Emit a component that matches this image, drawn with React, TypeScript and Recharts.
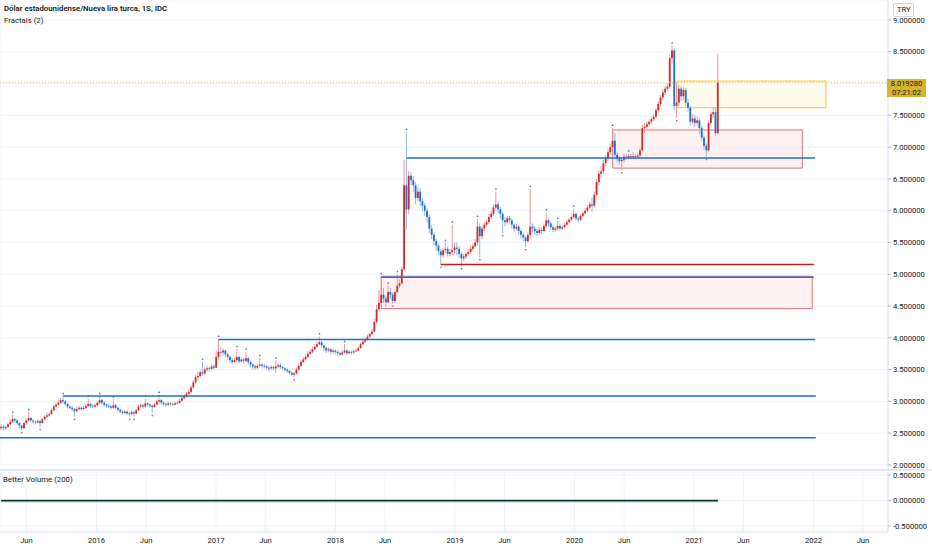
import React from "react";
import {
  ComposedChart,
  Bar,
  Scatter,
  XAxis,
  YAxis,
  CartesianGrid,
  ReferenceLine,
  ReferenceArea,
} from "recharts";

// [close, high, low] per weekly candle; open is the previous close
type Candle = [number, number, number];

const firstWeek = Date.UTC(2015, 2, 16);
const firstOpen = 2.58;

const weeks2015: Candle[] = [
  [2.60, 2.64, 2.55], [2.58, 2.63, 2.54], [2.60, 2.62, 2.55], [2.64, 2.66, 2.59], [2.68, 2.72, 2.62],
  [2.72, 2.79, 2.66], [2.70, 2.74, 2.66], [2.66, 2.72, 2.63], [2.62, 2.67, 2.58], [2.58, 2.63, 2.55],
  [2.66, 2.68, 2.57], [2.70, 2.73, 2.64], [2.74, 2.83, 2.68], [2.70, 2.76, 2.67], [2.68, 2.72, 2.65],
  [2.67, 2.70, 2.64], [2.69, 2.72, 2.65], [2.66, 2.71, 2.60], [2.72, 2.74, 2.65], [2.76, 2.78, 2.70],
  [2.78, 2.82, 2.74], [2.80, 2.83, 2.76], [2.86, 2.89, 2.79], [2.92, 2.95, 2.85], [2.95, 2.98, 2.90],
  [2.98, 3.02, 2.93], [3.02, 3.05, 2.96], [3.00, 3.08, 2.96], [2.96, 3.02, 2.93], [2.92, 2.98, 2.89],
  [2.90, 2.94, 2.87], [2.88, 2.93, 2.84], [2.85, 2.90, 2.76], [2.88, 2.91, 2.83], [2.90, 2.93, 2.86],
  [2.88, 2.92, 2.85], [2.90, 2.93, 2.86], [2.93, 2.96, 2.88], [2.96, 3.04, 2.91], [2.93, 2.98, 2.90],
  [2.92, 2.96, 2.89], [2.94, 2.97, 2.90],
];

const weeks2016: Candle[] = [
  [2.98, 3.01, 2.92], [3.02, 3.08, 2.96], [2.98, 3.04, 2.95], [2.95, 3.00, 2.92], [2.93, 2.97, 2.90],
  [2.92, 2.96, 2.89], [2.90, 2.94, 2.87], [2.94, 3.03, 2.88], [2.90, 2.96, 2.87], [2.87, 2.92, 2.84],
  [2.84, 2.89, 2.81], [2.82, 2.86, 2.79], [2.84, 2.87, 2.80], [2.81, 2.86, 2.79], [2.80, 2.84, 2.76],
  [2.83, 2.86, 2.78], [2.81, 2.85, 2.76], [2.86, 2.88, 2.80], [2.92, 2.95, 2.85], [2.94, 2.97, 2.90],
  [2.92, 2.96, 2.89], [2.97, 3.04, 2.90], [2.95, 2.99, 2.92], [2.93, 2.97, 2.90], [2.91, 2.95, 2.82],
  [2.95, 2.98, 2.90], [3.00, 3.03, 2.94], [3.02, 3.10, 2.97], [2.98, 3.04, 2.95], [2.96, 3.00, 2.93],
  [2.95, 2.98, 2.92], [2.97, 3.00, 2.93], [2.96, 2.99, 2.93], [2.95, 2.98, 2.93], [2.97, 3.00, 2.94],
  [2.98, 3.01, 2.95], [3.01, 3.04, 2.96], [3.05, 3.08, 3.00], [3.08, 3.11, 3.03], [3.12, 3.15, 3.06],
  [3.15, 3.19, 3.10], [3.22, 3.26, 3.13], [3.30, 3.34, 3.20], [3.38, 3.42, 3.27], [3.40, 3.47, 3.34],
  [3.46, 3.50, 3.37], [3.44, 3.62, 3.40], [3.50, 3.54, 3.41], [3.52, 3.56, 3.47], [3.51, 3.55, 3.47],
  [3.55, 3.58, 3.49], [3.53, 3.58, 3.50],
];

const weeks2017: Candle[] = [
  [3.70, 3.80, 3.52], [3.78, 3.98, 3.66], [3.77, 3.86, 3.70], [3.80, 3.84, 3.72], [3.74, 3.82, 3.70],
  [3.70, 3.76, 3.66], [3.65, 3.72, 3.60], [3.62, 3.68, 3.58], [3.65, 3.68, 3.60], [3.70, 3.82, 3.62],
  [3.63, 3.72, 3.60], [3.66, 3.69, 3.61], [3.64, 3.68, 3.60], [3.68, 3.78, 3.62], [3.62, 3.70, 3.58],
  [3.58, 3.64, 3.54], [3.55, 3.60, 3.50], [3.53, 3.58, 3.50], [3.56, 3.59, 3.51], [3.58, 3.68, 3.54],
  [3.56, 3.60, 3.52], [3.55, 3.59, 3.52], [3.53, 3.57, 3.50], [3.52, 3.56, 3.48], [3.54, 3.57, 3.50],
  [3.52, 3.56, 3.49], [3.55, 3.64, 3.45], [3.57, 3.60, 3.52], [3.54, 3.60, 3.51], [3.52, 3.56, 3.49],
  [3.50, 3.54, 3.47], [3.48, 3.52, 3.45], [3.45, 3.50, 3.42], [3.42, 3.47, 3.40], [3.44, 3.46, 3.38],
  [3.50, 3.53, 3.42], [3.56, 3.59, 3.48], [3.62, 3.66, 3.54], [3.66, 3.70, 3.60], [3.70, 3.74, 3.64],
  [3.75, 3.79, 3.68], [3.78, 3.82, 3.73], [3.82, 3.86, 3.76], [3.86, 3.90, 3.80], [3.90, 3.94, 3.84],
  [3.93, 4.02, 3.88], [3.88, 3.96, 3.84], [3.84, 3.90, 3.80], [3.80, 3.86, 3.76], [3.82, 3.85, 3.77],
  [3.78, 3.84, 3.74], [3.80, 3.83, 3.75],
];

const weeks2018: Candle[] = [
  [3.78, 3.82, 3.74], [3.76, 3.80, 3.72], [3.74, 3.78, 3.71], [3.77, 3.80, 3.72], [3.80, 3.90, 3.75],
  [3.76, 3.82, 3.73], [3.78, 3.81, 3.74], [3.77, 3.80, 3.74], [3.79, 3.82, 3.75], [3.80, 3.83, 3.77],
  [3.84, 3.87, 3.79], [3.90, 3.93, 3.83], [3.94, 3.98, 3.88], [3.97, 4.00, 3.92], [4.02, 4.05, 3.95],
  [4.06, 4.09, 4.00], [4.10, 4.14, 4.04], [4.25, 4.30, 4.08], [4.45, 4.52, 4.22], [4.55, 4.75, 4.42],
  [4.68, 4.97, 4.50], [4.62, 4.78, 4.55], [4.56, 4.66, 4.49], [4.72, 4.82, 4.54], [4.68, 4.78, 4.62],
  [4.58, 4.72, 4.54], [4.72, 4.76, 4.55], [4.82, 5.00, 4.70], [4.86, 4.92, 4.78], [5.08, 5.12, 4.84],
  [6.40, 6.80, 5.05], [6.02, 7.24, 5.70], [6.55, 6.62, 5.95], [6.48, 6.60, 6.40], [6.40, 6.55, 6.30],
  [6.20, 6.45, 6.10], [6.30, 6.38, 6.15], [6.15, 6.35, 6.08], [6.08, 6.20, 6.00], [6.00, 6.12, 5.92],
  [5.90, 6.04, 5.82], [5.72, 5.94, 5.65], [5.62, 5.78, 5.56], [5.52, 5.66, 5.46], [5.45, 5.56, 5.38],
  [5.36, 5.48, 5.30], [5.30, 5.40, 5.15], [5.38, 5.42, 5.26], [5.40, 5.49, 5.33], [5.32, 5.44, 5.28],
  [5.35, 5.40, 5.28], [5.38, 5.78, 5.30], [5.42, 5.50, 5.32],
];

const weeks2019: Candle[] = [
  [5.40, 5.50, 5.30], [5.32, 5.44, 5.26], [5.25, 5.35, 5.13], [5.28, 5.32, 5.20], [5.32, 5.36, 5.24],
  [5.35, 5.39, 5.29], [5.40, 5.44, 5.32], [5.44, 5.48, 5.37], [5.50, 5.55, 5.41], [5.75, 5.87, 5.45],
  [5.60, 5.80, 5.27], [5.72, 5.76, 5.55], [5.78, 5.82, 5.68], [5.82, 5.86, 5.74], [5.90, 5.95, 5.79],
  [5.95, 6.00, 5.87], [6.05, 6.10, 5.92], [6.10, 6.30, 6.00], [6.02, 6.14, 5.96], [5.95, 6.06, 5.88],
  [5.85, 5.98, 5.65], [5.82, 5.90, 5.76], [5.88, 5.92, 5.78], [5.85, 5.92, 5.80], [5.78, 5.88, 5.72],
  [5.72, 5.80, 5.66], [5.75, 5.79, 5.68], [5.68, 5.78, 5.62], [5.62, 5.71, 5.56], [5.58, 5.65, 5.52],
  [5.52, 5.61, 5.43], [5.62, 5.66, 5.50], [5.75, 6.34, 5.58], [5.72, 5.80, 5.66], [5.68, 5.76, 5.62],
  [5.65, 5.72, 5.60], [5.70, 5.74, 5.62], [5.68, 5.73, 5.63], [5.76, 5.80, 5.66], [5.85, 5.97, 5.73],
  [5.80, 5.88, 5.75], [5.74, 5.83, 5.70], [5.70, 5.77, 5.66], [5.72, 5.76, 5.67], [5.76, 5.84, 5.69],
  [5.72, 5.79, 5.68], [5.74, 5.77, 5.70], [5.78, 5.81, 5.72], [5.82, 5.85, 5.76], [5.86, 5.89, 5.80],
  [5.90, 5.93, 5.84], [5.95, 6.03, 5.87],
];

const weeks2020: Candle[] = [
  [5.88, 5.98, 5.84], [5.86, 5.91, 5.82], [5.92, 5.95, 5.84], [5.96, 5.99, 5.89], [6.00, 6.04, 5.93],
  [6.05, 6.09, 5.97], [6.10, 6.14, 6.02], [6.08, 6.20, 5.98], [6.25, 6.30, 6.05], [6.45, 6.50, 6.22],
  [6.58, 6.64, 6.40], [6.62, 6.70, 6.52], [6.75, 6.80, 6.58], [6.82, 6.88, 6.70], [6.92, 6.98, 6.78],
  [7.00, 7.06, 6.88], [7.10, 7.30, 6.96], [6.88, 7.22, 6.84], [6.82, 6.92, 6.76], [6.78, 6.86, 6.72],
  [6.80, 6.84, 6.64], [6.85, 6.90, 6.76], [6.84, 6.89, 6.80], [6.86, 6.90, 6.81], [6.85, 6.89, 6.81],
  [6.86, 6.92, 6.82], [6.85, 6.89, 6.81], [6.87, 6.90, 6.82], [6.95, 6.99, 6.84], [7.30, 7.35, 6.92],
  [7.32, 7.38, 7.22], [7.36, 7.40, 7.28], [7.40, 7.44, 7.33], [7.44, 7.48, 7.37], [7.48, 7.52, 7.41],
  [7.58, 7.62, 7.45], [7.68, 7.72, 7.55], [7.78, 7.82, 7.64], [7.86, 7.90, 7.74], [7.92, 7.96, 7.82],
  [7.95, 8.00, 7.88], [8.40, 8.45, 7.92], [8.52, 8.60, 8.30], [7.65, 8.55, 7.58], [7.70, 8.00, 7.46],
  [7.92, 7.98, 7.64], [7.80, 7.96, 7.72], [7.90, 7.95, 7.74], [7.70, 7.93, 7.64], [7.62, 7.76, 7.56],
  [7.40, 7.65, 7.34], [7.45, 7.52, 7.36],
];

const weeks2021: Candle[] = [
  [7.38, 7.50, 7.32], [7.42, 7.48, 7.34], [7.30, 7.45, 7.20], [7.15, 7.34, 7.10], [7.02, 7.18, 6.96],
  [6.95, 7.06, 6.85], [7.38, 7.42, 6.92], [7.52, 7.56, 7.34], [7.55, 7.63, 7.46], [7.22, 7.62, 7.18],
  [8.02, 8.47, 7.20],
];

// candle indices carrying a fractal mark
const fractalUp = [5, 12, 27, 38, 43, 49, 63, 69, 88, 95, 103, 107, 113, 120, 139, 150, 166, 169, 173, 177, 194, 197, 208, 216, 231, 238, 243, 250, 267, 274, 293];
const fractalDown = [9, 17, 32, 56, 58, 66, 128, 171, 192, 201, 209, 219, 229, 271, 295, 308];

const timeTickDates = [
  "2015-06-01", "2016-01-01", "2016-06-01", "2017-01-01", "2017-06-01", "2018-01-01", "2018-06-01",
  "2019-01-01", "2019-06-01", "2020-01-01", "2020-06-01", "2021-01-01", "2021-06-01", "2022-01-01", "2022-06-01",
];
const timeTickLabels = ["Jun", "2016", "Jun", "2017", "Jun", "2018", "Jun", "2019", "Jun", "2020", "Jun", "2021", "Jun", "2022", "Jun"];

const priceTicks = [2, 2.5, 3, 3.5, 4, 4.5, 5, 5.5, 6, 6.5, 7, 7.5, 8, 8.5, 9];
const volumeTicks = [0.5, 0, -0.5];

// horizontal levels: price, first candle index, end date
const blueLevels: [number, number, string][] = [
  [2.43, 0, "2022-01-08"],
  [3.085, 27, "2022-01-08"],
  [3.975, 95, "2022-01-06"],
  [4.955, 166, "2022-01-02"],
  [6.83, 177, "2022-01-06"],
];
const redLevels: [number, number, string][] = [[5.155, 192, "2022-01-02"]];
// zones: low, high, first candle index, end date
const redZones: [number, number, number, string][] = [
  [4.46, 4.97, 166, "2021-12-28"],
  [6.67, 7.27, 267, "2021-11-28"],
];
const yellowZone: [number, number, number, string] = [7.62, 8.04, 295, "2022-02-08"];
const lastPrice = 8.01928;
const lastPriceText = "8.019280";
const countdownText = "07:21:02";

const UP = "#d12a2a";
const UP_WICK = "#e99a9a";
const DOWN = "#1f6fd6";
const DOWN_WICK = "#8fb7ea";
const GRID = "#f0f3fa";
const TEXT = "#131722";
const FONT = "Roboto, 'Open Sans', sans-serif";

const DAY = 86400000;
const yearFrac = (ms: number) => {
  const y = new Date(ms).getUTCFullYear();
  const a = Date.UTC(y, 0, 1);
  const b = Date.UTC(y + 1, 0, 1);
  return y + (ms - a) / (b - a);
};
const dateT = (s: string) => yearFrac(Date.parse(s + "T00:00:00Z"));

const candles = [...weeks2015, ...weeks2016, ...weeks2017, ...weeks2018, ...weeks2019, ...weeks2020, ...weeks2021];
const rows = candles.map(([close, high, low], i) => ({
  t: yearFrac(firstWeek + i * 7 * DAY),
  open: i === 0 ? firstOpen : candles[i - 1][0],
  close,
  high,
  low,
  range: [low, high],
}));
const upPoints = fractalUp.map((i) => ({ t: rows[i].t, v: rows[i].high }));
const downPoints = fractalDown.map((i) => ({ t: rows[i].t, v: rows[i].low }));
const timeTicks = timeTickDates.map(dateT);

// 119.5 px per year, plot 888 px wide
const T0 = 2015 + 23 / 119.5;
const T1 = 2015 + 911 / 119.5;

const CandleShape = (props: any) => {
  const { x, y, width, height, payload } = props;
  if (!payload || height == null) return null;
  const { open, close, high, low } = payload;
  const cx = x + width / 2;
  const span = high - low || 1;
  const py = (v: number) => y + ((high - v) / span) * height;
  const up = close >= open;
  const top = py(Math.max(open, close));
  const bot = py(Math.min(open, close));
  return (
    <g>
      <line x1={cx} x2={cx} y1={y} y2={y + height} stroke={up ? UP_WICK : DOWN_WICK} strokeWidth={1} />
      <rect x={cx - 0.9} y={top} width={1.8} height={Math.max(bot - top, 0.8)} fill={up ? UP : DOWN} />
    </g>
  );
};

const UpMark = (props: any) => {
  const { cx, cy } = props;
  return <path d={`M${cx - 1.1},${cy - 2} L${cx + 1.1},${cy - 2} L${cx},${cy - 4} Z`} fill="#2a78e0" />;
};
const DownMark = (props: any) => {
  const { cx, cy } = props;
  return <path d={`M${cx - 1.1},${cy + 2} L${cx + 1.1},${cy + 2} L${cx},${cy + 4} Z`} fill="#e05a5a" />;
};

const PriceTick = (props: any) => {
  const { x, y, payload } = props;
  // the last-price label covers the 8.0 level
  if (Math.abs(payload.value - 8) < 1e-9) return null;
  return (
    <g>
      <line x1={x} x2={x + 3} y1={y} y2={y} stroke="#b2b5be" />
      <text x={x + 5} y={y} dy={2.7} fontSize={7.6} fill={TEXT} fontFamily={FONT}>
        {Number(payload.value).toFixed(6)}
      </text>
    </g>
  );
};

const TimeTick = (props: any) => {
  const { x, y, payload } = props;
  const i = timeTicks.indexOf(payload.value);
  return (
    <text x={x} y={y + 11} textAnchor="middle" fontSize={7.6} fill={TEXT} fontFamily={FONT}>
      {timeTickLabels[i] ?? ""}
    </text>
  );
};

export default function App() {
  return (
    <div style={{ position: "relative", width: 932, height: 550, background: "#fff", overflow: "hidden", fontFamily: FONT }}>
      <style>{"body{margin:0}"}</style>
      <div style={{ position: "absolute", left: 0, top: 0 }}>
        <ComposedChart width={932} height={470} data={rows} margin={{ top: 0, right: 0, bottom: 0, left: 0 }}>
          <CartesianGrid stroke={GRID} />
          <XAxis
            type="number"
            dataKey="t"
            domain={[T0, T1]}
            ticks={timeTicks}
            interval={0}
            allowDataOverflow
            tick={false}
            tickLine={false}
            axisLine={false}
            height={1}
          />
          <YAxis
            orientation="right"
            width={44}
            domain={[1.937, 9.3146]}
            ticks={priceTicks}
            interval={0}
            allowDataOverflow
            tick={<PriceTick />}
            tickLine={false}
            tickSize={0}
            tickMargin={0}
            axisLine={{ stroke: "#e0e3eb" }}
          />
          {redZones.map(([lo, hi, from, end], k) => (
            <ReferenceArea
              key={"rz" + k}
              x1={rows[from].t}
              x2={dateT(end)}
              y1={lo}
              y2={hi}
              fill="#fdeeee"
              fillOpacity={0.8}
              stroke="#e57373"
              strokeWidth={1}
            />
          ))}
          <ReferenceArea
            x1={rows[yellowZone[2]].t}
            x2={dateT(yellowZone[3])}
            y1={yellowZone[0]}
            y2={yellowZone[1]}
            fill="#fffbea"
            fillOpacity={0.9}
            stroke="#f6c544"
            strokeWidth={1}
          />
          <ReferenceLine
            segment={[{ x: T0, y: lastPrice }, { x: T1, y: lastPrice }]}
            stroke="#f3b94a"
            strokeDasharray="1 2"
            strokeWidth={1}
          />
          {blueLevels.map(([p, from, end], k) => (
            <ReferenceLine
              key={"bl" + k}
              segment={[{ x: from === 0 ? T0 : rows[from].t, y: p }, { x: dateT(end), y: p }]}
              stroke="#1e6fd9"
              strokeWidth={1.5}
            />
          ))}
          {redLevels.map(([p, from, end], k) => (
            <ReferenceLine
              key={"rl" + k}
              segment={[{ x: rows[from].t, y: p }, { x: dateT(end), y: p }]}
              stroke="#c21a1a"
              strokeWidth={1.5}
            />
          ))}
          <Bar dataKey="range" barSize={2} shape={<CandleShape />} isAnimationActive={false} />
          <Scatter data={upPoints} dataKey="v" shape={<UpMark />} isAnimationActive={false} />
          <Scatter data={downPoints} dataKey="v" shape={<DownMark />} isAnimationActive={false} />
        </ComposedChart>
      </div>

      <div style={{ position: "absolute", left: 0, top: 469, width: 932, height: 2, background: "#e6e8ee" }} />

      <div style={{ position: "absolute", left: 0, top: 470 }}>
        <ComposedChart width={932} height={80} data={rows} margin={{ top: 2, right: 0, bottom: 0, left: 0 }}>
          <CartesianGrid stroke={GRID} />
          <XAxis
            type="number"
            dataKey="t"
            domain={[T0, T1]}
            ticks={timeTicks}
            interval={0}
            allowDataOverflow
            tick={<TimeTick />}
            tickLine={false}
            tickSize={0}
            tickMargin={0}
            axisLine={{ stroke: "#e0e3eb" }}
            height={18}
          />
          <YAxis
            orientation="right"
            width={44}
            domain={[-0.6176, 0.559]}
            ticks={volumeTicks}
            interval={0}
            allowDataOverflow
            tick={<PriceTick />}
            tickLine={false}
            tickSize={0}
            tickMargin={0}
            axisLine={{ stroke: "#e0e3eb" }}
          />
          <ReferenceLine
            segment={[{ x: rows[0].t, y: -0.022 }, { x: rows[rows.length - 1].t, y: -0.022 }]}
            stroke="#7cc4bb"
            strokeWidth={1.2}
          />
          <ReferenceLine
            segment={[{ x: rows[0].t, y: 0 }, { x: rows[rows.length - 1].t, y: 0 }]}
            stroke="#15302c"
            strokeWidth={1.4}
          />
        </ComposedChart>
      </div>

      <div style={{ position: "absolute", left: 4, top: 4, fontSize: 7.8, fontWeight: 600, color: TEXT, whiteSpace: "nowrap" }}>
        Dólar estadounidense/Nueva lira turca, 1S, IDC
      </div>
      <div style={{ position: "absolute", left: 4, top: 16, fontSize: 7.8, color: TEXT, whiteSpace: "nowrap" }}>Fractals (2)</div>
      <div style={{ position: "absolute", left: 3, top: 475, fontSize: 7.8, color: TEXT, whiteSpace: "nowrap" }}>
        Better Volume (200)
      </div>
      <div
        style={{
          position: "absolute",
          left: 893,
          top: 3,
          padding: "0 3px",
          height: 12,
          lineHeight: "12px",
          border: "1px solid #d1d4dc",
          borderRadius: 2,
          fontSize: 7.5,
          color: TEXT,
          background: "#fff",
        }}
      >
        TRY
      </div>
      <div
        style={{
          position: "absolute",
          left: 887,
          top: 79,
          width: 39,
          height: 18,
          background: "#d5b52c",
          color: TEXT,
          fontSize: 7.5,
          lineHeight: "9px",
          textAlign: "center",
        }}
      >
        <div>{lastPriceText}</div>
        <div>{countdownText}</div>
      </div>
    </div>
  );
}
